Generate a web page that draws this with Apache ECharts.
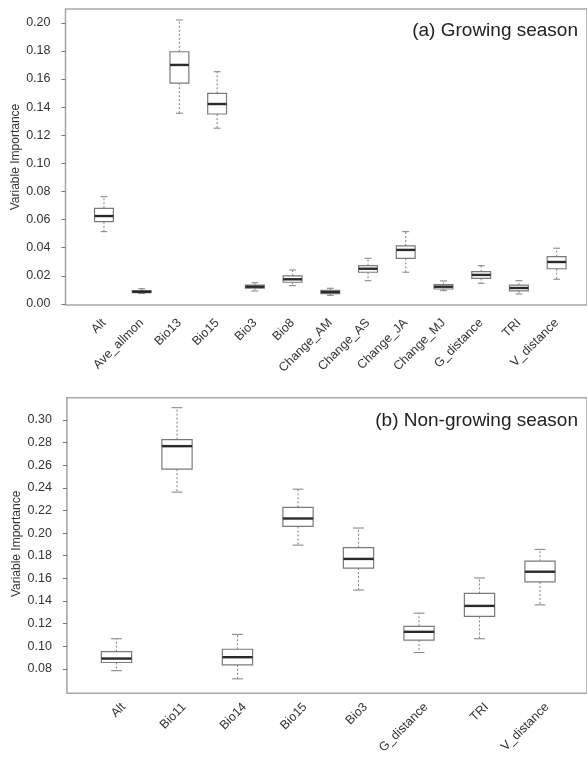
<!DOCTYPE html>
<html>
<head>
<meta charset="utf-8">
<script src="https://cdn.jsdelivr.net/npm/echarts@6/dist/echarts.min.js"></script>
<style>
html,body{margin:0;padding:0;background:#fff;}
#chart{width:587px;height:759px;}
</style>
</head>
<body>
<div id="chart"></div>
<script>
// ---- Panel (a) Growing season ----
var catsA = ['Alt','Ave_allmon','Bio13','Bio15','Bio3','Bio8','Change_AM','Change_AS','Change_JA','Change_MJ','G_distance','TRI','V_distance'];
var aMin    = [0.0514, 0.0074, 0.1356, 0.1250, 0.0092, 0.0130, 0.0061, 0.0165, 0.0225, 0.0094, 0.0147, 0.0070, 0.0175];
var aQ1     = [0.0585, 0.0080, 0.1570, 0.1351, 0.0111, 0.0154, 0.0073, 0.0225, 0.0324, 0.0106, 0.0182, 0.0092, 0.0250];
var aMedian = [0.0625, 0.0086, 0.1700, 0.1422, 0.0122, 0.0175, 0.0085, 0.0250, 0.0384, 0.0122, 0.0206, 0.0113, 0.0298];
var aQ3     = [0.0680, 0.0094, 0.1794, 0.1498, 0.0134, 0.0199, 0.0097, 0.0272, 0.0412, 0.0137, 0.0229, 0.0134, 0.0336];
var aMax    = [0.0763, 0.0108, 0.2020, 0.1652, 0.0151, 0.0241, 0.0111, 0.0324, 0.0514, 0.0163, 0.0272, 0.0165, 0.0396];
var ticksA  = [0.00, 0.02, 0.04, 0.06, 0.08, 0.10, 0.12, 0.14, 0.16, 0.18, 0.20];

// ---- Panel (b) Non-growing season ----
var catsB = ['Alt','Bio11','Bio14','Bio15','Bio3','G_distance','TRI','V_distance'];
var bMin    = [0.0785, 0.2362, 0.0713, 0.1894, 0.1497, 0.0945, 0.1067, 0.1366];
var bQ1     = [0.0857, 0.2565, 0.0837, 0.2059, 0.1691, 0.1055, 0.1264, 0.1569];
var bMedian = [0.0892, 0.2768, 0.0904, 0.2129, 0.1772, 0.1128, 0.1357, 0.1659];
var bQ3     = [0.0953, 0.2826, 0.0974, 0.2228, 0.1871, 0.1177, 0.1467, 0.1752];
var bMax    = [0.1067, 0.3108, 0.1105, 0.2388, 0.2045, 0.1293, 0.1604, 0.1856];
var ticksB  = [0.08, 0.10, 0.12, 0.14, 0.16, 0.18, 0.20, 0.22, 0.24, 0.26, 0.28, 0.30];

var titleA = '(a) Growing season';
var titleB = '(b) Non-growing season';
var yName = 'Variable Importance';

function rows(mn, q1, md, q3, mx){
  return mn.map(function(v, i){ return [i, mn[i], q1[i], md[i], q3[i], mx[i]]; });
}

var FONT = 'Liberation Sans, Arial, sans-serif';

function renderBox(params, api){
  var idx = api.value(0);
  var lo = api.coord([idx, api.value(1)]);
  var q1 = api.coord([idx, api.value(2)]);
  var md = api.coord([idx, api.value(3)]);
  var q3 = api.coord([idx, api.value(4)]);
  var hi = api.coord([idx, api.value(5)]);
  var band = api.size([1, 0])[0];
  var bw = band * 0.5;
  var cap = bw * 0.36;
  var x = md[0];
  var wStyle = {stroke:'#8a8a8a', lineWidth:1.1, lineDash:[2,2]};
  var cStyle = {stroke:'#8a8a8a', lineWidth:1.1};
  return {type:'group', children:[
    {type:'line', shape:{x1:x, y1:q3[1], x2:x, y2:hi[1]}, style:wStyle},
    {type:'line', shape:{x1:x, y1:q1[1], x2:x, y2:lo[1]}, style:wStyle},
    {type:'line', shape:{x1:x-cap/2, y1:hi[1], x2:x+cap/2, y2:hi[1]}, style:cStyle},
    {type:'line', shape:{x1:x-cap/2, y1:lo[1], x2:x+cap/2, y2:lo[1]}, style:cStyle},
    {type:'rect', shape:{x:x-bw/2, y:q3[1], width:bw, height:q1[1]-q3[1]}, style:{fill:'#fff', stroke:'#7a7a7a', lineWidth:1.2}},
    {type:'line', shape:{x1:x-bw/2, y1:md[1], x2:x+bw/2, y2:md[1]}, style:{stroke:'#2a2a2a', lineWidth:2.4}}
  ]};
}

function yAxisCfg(grid, mn, mx, ticks, off){
  return {
    type:'value', gridIndex:grid, min:mn, max:mx, offset:off,
    name:yName, nameLocation:'middle', nameGap:44, nameMoveOverlap:false,
    nameTextStyle:{color:'#333', fontFamily:FONT, fontSize:12},
    axisLine:{show:false},
    axisTick:{show:true, length:4, customValues:ticks, lineStyle:{color:'#777'}},
    axisLabel:{customValues:ticks, margin:15, color:'#333', fontFamily:FONT, fontSize:12.5,
      formatter:function(v){ return v.toFixed(2); }},
    splitLine:{show:false}
  };
}
function xAxisCfg(grid, cats, lbl){
  var al = {rotate:45, interval:0, color:'#333', fontFamily:FONT, fontSize:12.5};
  for (var k in lbl) al[k] = lbl[k];
  return {
    type:'category', gridIndex:grid, data:cats, boundaryGap:true,
    axisLine:{show:false}, axisTick:{show:false}, splitLine:{show:false},
    axisLabel:al
  };
}
function frameAxes(grid){
  return {
    x:{type:'value', gridIndex:grid, show:false, min:0, max:1},
    y:{type:'value', gridIndex:grid, show:false, min:0, max:1}
  };
}
var fa1 = frameAxes(1), fb3 = frameAxes(3);

var option = {
  animation:false,
  backgroundColor:'#fff',
  title:[
    {text:titleA, right:4, top:16, textStyle:{fontFamily:FONT, fontSize:19, fontWeight:'normal', color:'#222'}},
    {text:titleB, right:4, top:406, textStyle:{fontFamily:FONT, fontSize:19, fontWeight:'normal', color:'#222'}}
  ],
  grid:[
    {left:85.1, top:9, width:490.4, height:296},
    {left:65.5, top:9, width:529.6, height:296, show:true, borderColor:'#a8a8a8', borderWidth:1.6, backgroundColor:'transparent'},
    {left:86.25, top:397.7, width:484, height:295.6},
    {left:66.9, top:397.7, width:522.7, height:295.6, show:true, borderColor:'#a8a8a8', borderWidth:1.6, backgroundColor:'transparent'}
  ],
  xAxis:[
    xAxisCfg(0, catsA, {margin:16}),
    fa1.x,
    xAxisCfg(2, catsB, {margin:8, verticalAlign:'top', lineHeight:20}),
    fb3.x
  ],
  yAxis:[ yAxisCfg(0, -0.0008, 0.2098, ticksA, 19.6), fa1.y, yAxisCfg(2, 0.0614, 0.3196, ticksB, 19.35), fb3.y ],
  series:[
    {type:'custom', xAxisIndex:0, yAxisIndex:0, renderItem:renderBox,
     encode:{x:0, y:[1,2,3,4,5]}, data:rows(aMin, aQ1, aMedian, aQ3, aMax), z:3},
    {type:'custom', xAxisIndex:2, yAxisIndex:2, renderItem:renderBox,
     encode:{x:0, y:[1,2,3,4,5]}, data:rows(bMin, bQ1, bMedian, bQ3, bMax), z:3}
  ]
};

var chart = echarts.init(document.getElementById('chart'), null, {renderer:'canvas'});
chart.setOption(option);
</script>
</body>
</html>
